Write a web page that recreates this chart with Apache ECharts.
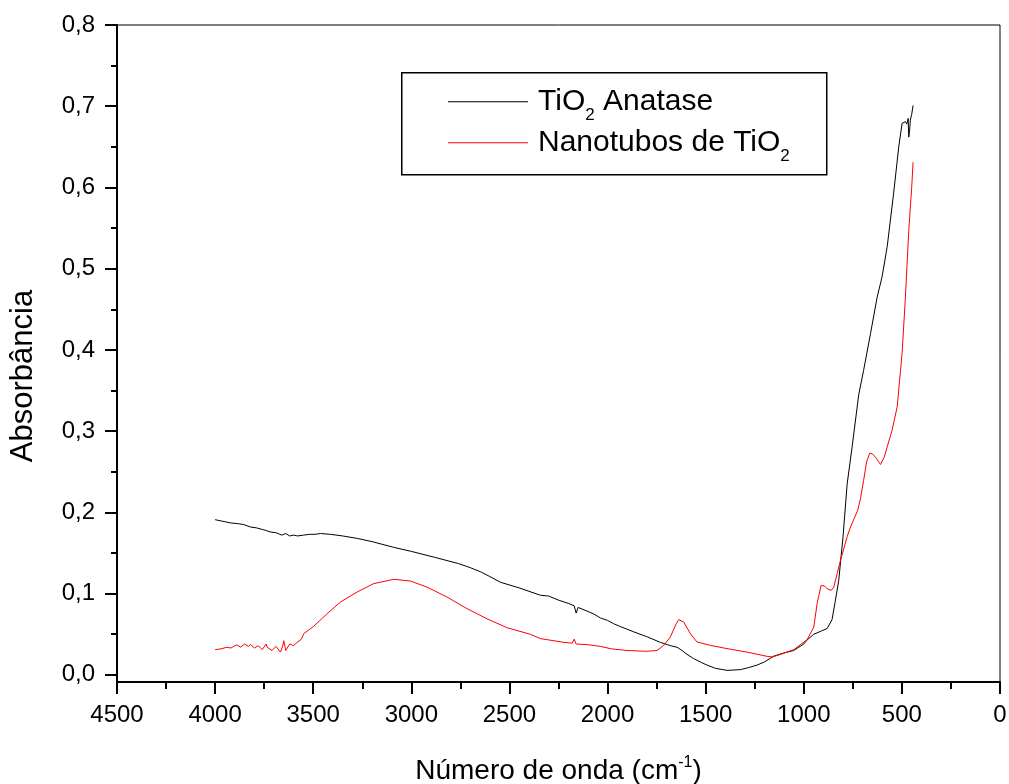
<!DOCTYPE html>
<html><head><meta charset="utf-8">
<script src="https://cdn.jsdelivr.net/npm/echarts@6/dist/echarts.min.js"></script>
<style>html,body{margin:0;padding:0;background:#fff}#c{width:1009px;height:784px}</style>
</head><body><div id="c"></div>
<script>
const seriesNames = ['TiO2 Anatase', 'Nanotubos de TiO2'];
const seriesColors = ['#000000', '#ff0000'];
const xAxisTitle = 'Número de onda (cm{sup|-1})';
const yAxisTitle = 'Absorbância';
const xRange = [0, 4500];
const xTickStep = 500;
const yRange = [-0.0088, 0.8];
const yTickValues = [0, 0.1, 0.2, 0.3, 0.4, 0.5, 0.6, 0.7, 0.8];
const yMinorTickValues = [0.05, 0.15, 0.25, 0.35, 0.45, 0.55, 0.65, 0.75];

// [wavenumber (cm-1), absorbance]
const anatase = [
  [4000,0.191],[3960,0.189],[3920,0.187],[3880,0.186],[3854,0.185],[3820,0.182],[3790,0.181],
  [3760,0.179],[3744,0.178],[3720,0.176],[3690,0.175],[3660,0.172],[3640,0.174],[3620,0.171],
  [3600,0.172],[3580,0.171],[3550,0.172],[3520,0.173],[3490,0.173],[3463,0.174],[3412,0.173],
  [3350,0.171],[3276,0.168],[3200,0.164],[3090,0.157],[3000,0.152],[2886,0.145],[2760,0.137],
  [2700,0.132],[2648,0.127],[2600,0.121],[2546,0.114],[2450,0.107],[2342,0.098],[2300,0.097],
  [2250,0.092],[2200,0.088],[2170,0.085],[2160,0.076],[2150,0.083],[2100,0.078],[2071,0.075],
  [2036,0.070],[2000,0.067],[1969,0.063],[1940,0.060],[1867,0.053],[1800,0.047],[1731,0.040],
  [1680,0.036],[1646,0.034],[1620,0.030],[1600,0.026],[1561,0.020],[1520,0.015],[1493,0.012],
  [1450,0.008],[1391,0.0055],[1323,0.0064],[1280,0.009],[1238,0.012],[1200,0.016],[1153,0.023],
  [1100,0.027],[1051,0.030],[1000,0.038],[983,0.043],[949,0.050],[910,0.054],[881,0.057],
  [856,0.068],[840,0.090],[822,0.116],[800,0.170],[779,0.235],[754,0.280],[720,0.345],
  [695,0.375],[660,0.420],[626,0.465],[601,0.490],[575,0.527],[542,0.593],[516,0.650],
  [499,0.679],[490,0.677],[482,0.681],[475,0.678],[468,0.685],[465,0.662],[460,0.672],
  [457,0.683],[450,0.690],[443,0.701]
];
const nanotubos = [
  [4000,0.031],[3970,0.032],[3940,0.034],[3920,0.033],[3905,0.035],[3890,0.037],[3870,0.034],
  [3850,0.038],[3830,0.035],[3820,0.0375],[3800,0.033],[3780,0.036],[3760,0.031],[3740,0.038],
  [3735,0.034],[3710,0.030],[3690,0.035],[3667,0.028],[3655,0.036],[3650,0.042],[3640,0.030],
  [3620,0.038],[3600,0.036],[3582,0.040],[3560,0.044],[3548,0.0507],[3498,0.0597],[3429,0.0753],
  [3361,0.0897],[3276,0.102],[3192,0.1123],[3090,0.1176],[3005,0.1155],[2920,0.108],[2818,0.0958],
  [2716,0.0815],[2614,0.069],[2512,0.058],[2393,0.0499],[2342,0.0446],[2300,0.043],[2223,0.040],
  [2180,0.039],[2170,0.044],[2160,0.038],[2104,0.0372],[2036,0.035],[1980,0.032],[1901,0.030],
  [1800,0.029],[1748,0.030],[1714,0.0363],[1680,0.0466],[1650,0.063],[1637,0.068],[1612,0.065],
  [1578,0.0507],[1544,0.0404],[1520,0.039],[1476,0.0363],[1391,0.0323],[1289,0.028],[1187,0.0228],
  [1160,0.022],[1119,0.0252],[1051,0.031],[983,0.0433],[949,0.0589],[932,0.0877],[912,0.110],
  [895,0.1095],[881,0.106],[860,0.104],[847,0.108],[830,0.1246],[813,0.141],[779,0.170],
  [762,0.182],[725,0.2026],[711,0.217],[695,0.2395],[680,0.262],[664,0.273],[650,0.272],
  [635,0.268],[609,0.259],[590,0.268],[575,0.2806],[550,0.301],[524,0.330],[499,0.3956],
  [482,0.465],[465,0.547],[450,0.600],[443,0.631]
];

const FONT = 'Liberation Sans, Arial, sans-serif';
const chart = echarts.init(document.getElementById('c'), null, {renderer: 'canvas'});
const gridBox = {left: 117, right: 9, top: 25, bottom: 102, outerBoundsMode: 'none', containLabel: false};

const option = {
  animation: false,
  backgroundColor: '#fff',
  grid: [
    Object.assign({show: true, borderColor: '#000', borderWidth: 1, backgroundColor: 'transparent'}, gridBox),
    Object.assign({show: false}, gridBox)
  ],
  legend: {
    orient: 'vertical',
    left: 448,
    top: 79.7,
    padding: 0,
    icon: 'rect',
    itemWidth: 80,
    itemHeight: 1,
    itemGap: -3,
    data: seriesNames,
    formatter: n => n.replace('TiO2', 'TiO{sub|2}'),
    textStyle: {
      fontFamily: FONT, fontSize: 30, color: '#000', lineHeight: 44, padding: [0, 0, 0, 5],
      rich: {sub: {fontFamily: FONT, fontSize: 17, lineHeight: 17, verticalAlign: 'bottom', color: '#000'}}
    }
  },
  graphic: [
    {type: 'rect', left: 401, top: 72, shape: {width: 425, height: 102},
     style: {fill: 'transparent', stroke: '#000', lineWidth: 1.5}, z: 100, silent: true},
    {type: 'text', x: 23, y: 376, rotation: Math.PI / 2,
     style: {text: yAxisTitle, font: '31px ' + FONT, fill: '#000', align: 'center', verticalAlign: 'middle'}, z: 100}
  ],
  xAxis: [
    {
      type: 'value', gridIndex: 0, min: xRange[0], max: xRange[1], interval: xTickStep, inverse: true,
      position: 'bottom',
      name: xAxisTitle, nameLocation: 'middle', nameGap: 73,
      nameTextStyle: {fontFamily: FONT, fontSize: 28, color: '#000', lineHeight: 32,
        rich: {sup: {fontFamily: FONT, fontSize: 16, lineHeight: 16, verticalAlign: 'top', color: '#000'}}},
      axisLine: {show: true, onZero: false, lineStyle: {color: '#000', width: 2}},
      axisTick: {show: true, length: 12, lineStyle: {color: '#000', width: 2}},
      minorTick: {show: true, splitNumber: 2, length: 7, lineStyle: {color: '#000', width: 2}},
      axisLabel: {fontFamily: FONT, fontSize: 24, color: '#000', margin: 21, formatter: v => String(v)},
      splitLine: {show: false}, minorSplitLine: {show: false}
    },
    {type: 'value', gridIndex: 1, min: xRange[0], max: xRange[1], show: false}
  ],
  yAxis: [
    {
      type: 'value', gridIndex: 0, min: yRange[0], max: yRange[1], position: 'left',
      axisLine: {show: true, onZero: false, lineStyle: {color: '#000', width: 2}},
      axisTick: {show: true, length: 12, customValues: yTickValues, lineStyle: {color: '#000', width: 2}},
      axisLabel: {fontFamily: FONT, fontSize: 24, color: '#000', margin: 22, customValues: yTickValues,
        formatter: v => v.toFixed(1).replace('.', ',')},
      splitLine: {show: false}
    },
    {
      type: 'value', gridIndex: 1, min: yRange[0], max: yRange[1], position: 'left',
      axisLine: {show: false},
      axisTick: {show: true, length: 6, customValues: yMinorTickValues, lineStyle: {color: '#000', width: 2}},
      axisLabel: {show: false},
      splitLine: {show: false}
    }
  ],
  series: [
    {name: seriesNames[0], type: 'line', xAxisIndex: 0, yAxisIndex: 0, data: anatase, symbol: 'none',
     showSymbol: false, lineStyle: {color: seriesColors[0], width: 1}, itemStyle: {color: seriesColors[0]}},
    {name: seriesNames[1], type: 'line', xAxisIndex: 0, yAxisIndex: 0, data: nanotubos, symbol: 'none',
     showSymbol: false, lineStyle: {color: seriesColors[1], width: 1}, itemStyle: {color: seriesColors[1]}}
  ]
};
chart.setOption(option);
</script>
</body></html>
